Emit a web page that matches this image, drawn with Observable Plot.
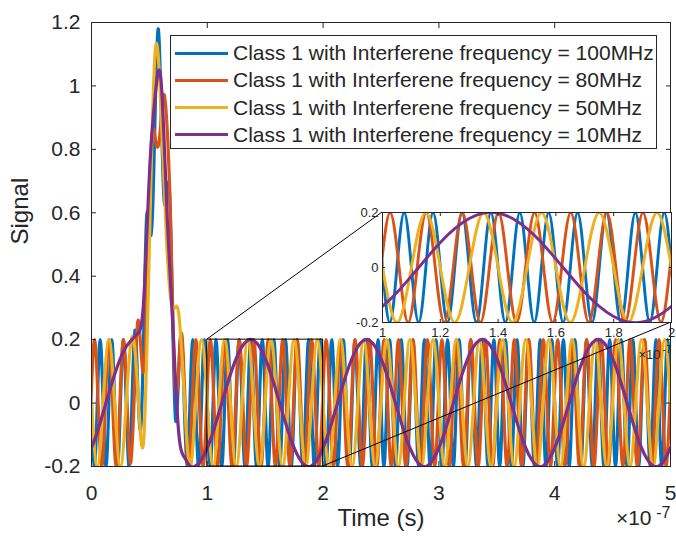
<!DOCTYPE html>
<html>
<head>
<meta charset="utf-8">
<script src="https://cdn.jsdelivr.net/npm/d3@7"></script>
<script src="https://cdn.jsdelivr.net/npm/@observablehq/plot@0.6"></script>
<style>
  html, body { margin: 0; padding: 0; background: #fff; }
  #chart { position: relative; width: 676px; height: 538px; font-family: "Liberation Sans", Arial, sans-serif; color: #262626; }
  #chart > svg { position: absolute; left: 0; top: 0; }
  .legend { position: absolute; left: 170px; top: 35px; width: 487px; height: 114px; box-sizing: border-box;
            border: 1px solid #262626; background: #fff; font-size: 21px; }
  .legend .row { position: absolute; left: 0; height: 26px; display: flex; align-items: center; white-space: nowrap; }
  .legend .swatch { width: 53px; height: 3px; margin-left: 4px; margin-right: 5px; }
</style>
</head>
<body>
<div id="chart"></div>
<script>
// ---------- data (time in units of 10^-7 s) ----------
const seriesNames = [
  "Class 1 with Interferene frequency = 100MHz",
  "Class 1 with Interferene frequency = 80MHz",
  "Class 1 with Interferene frequency = 50MHz",
  "Class 1 with Interferene frequency = 10MHz"
];
const seriesColors = ["#0072BD", "#D95319", "#EDB120", "#7E2F8E"];
const seriesStart = [0, -0.005, 0, 0];
const seriesStep = [0.025, 0.03125, 0.05, 0.05];

const blueSignal = [
  0,-0.2,0,0.2, 0,-0.2,0,0.2, 0,-0.2,0,0.2, 0,-0.2,
  0.01,0.23,0.05,-0.08,0.21,0.58,0.55,0.58,0.92,1.18,0.95,0.65,0.66,0.66,0.28,-0.05,0.07,0.22,0.01,
  -0.2,0,0.2,
  0,-0.2,0,0.2, 0,-0.2,0,0.2, 0,-0.2,0,0.2, 0,-0.2,0,0.2, 0,-0.2,0,0.2,
  0,-0.2,0,0.2, 0,-0.2,0,0.2, 0,-0.2,0,0.2, 0,-0.2,0,0.2, 0,-0.2,0,0.2,
  0,-0.2,0,0.2, 0,-0.2,0,0.2, 0,-0.2,0,0.2, 0,-0.2,0,0.2, 0,-0.2,0,0.2,
  0,-0.2,0,0.2, 0,-0.2,0,0.2, 0,-0.2,0,0.2, 0,-0.2,0,0.2, 0,-0.2,0,0.2,
  0,-0.2,0,0.2, 0,-0.2,0,0.2, 0,-0.2,0,0.2, 0,-0.2,0,0.2, 0,-0.2,0,0.2,
  0,-0.2,0,0.2, 0,-0.2,0,0.2, 0,-0.2,0,0.2, 0,-0.2,0,0.2, 0,-0.2,0,0.2,
  0,-0.2,0,0.2, 0,-0.2,0,0.2, 0,-0.2,0,0.2, 0,-0.2,0,0.2, 0,-0.2,0,0.2,
  0,-0.2,0,0.2, 0,-0.2,0,0.2, 0,-0.2,0,0.2, 0,-0.2,0,0.2, 0,-0.2,0,0.2,
  0,-0.2,0,0.2,
  0
];

const orangeSignal = [
  0,0.2,0,-0.2, 0,0.2,0,-0.2, 0,0.2,0,
  -0.19,0.03,0.26,0.14,0.16,0.6,0.86,0.82,0.84,0.97,0.88,0.58,0.12,0.06,0.22,0.01,-0.2,
  0,0.2,0,-0.2, 0,0.2,0,-0.2, 0,0.2,0,-0.2, 0,0.2,0,-0.2, 0,0.2,0,-0.2,
  0,0.2,0,-0.2, 0,0.2,0,-0.2, 0,0.2,0,-0.2, 0,0.2,0,-0.2, 0,0.2,0,-0.2,
  0,0.2,0,-0.2, 0,0.2,0,-0.2, 0,0.2,0,-0.2, 0,0.2,0,-0.2, 0,0.2,0,-0.2,
  0,0.2,0,-0.2, 0,0.2,0,-0.2, 0,0.2,0,-0.2, 0,0.2,0,-0.2, 0,0.2,0,-0.2,
  0,0.2,0,-0.2, 0,0.2,0,-0.2, 0,0.2,0,-0.2, 0,0.2,0,-0.2, 0,0.2,0,-0.2,
  0,0.2,0,-0.2, 0,0.2,0,-0.2, 0,0.2,0,-0.2, 0,0.2,0,-0.2, 0,0.2,0,-0.2,
  0,0.2,0,-0.2, 0,0.2,0,-0.2, 0,0.2,0,-0.2,
  0,0.2
];

const yellowSignal = [
  0,-0.2,0,0.2, 0,-0.2,0,
  0.21,0.04,-0.12,0.5,1.11,0.93,0.5,0.3,0.29,0.03,-0.2,
  0,0.2,
  0,-0.2,0,0.2, 0,-0.2,0,0.2, 0,-0.2,0,0.2, 0,-0.2,0,0.2, 0,-0.2,0,0.2,
  0,-0.2,0,0.2, 0,-0.2,0,0.2, 0,-0.2,0,0.2, 0,-0.2,0,0.2, 0,-0.2,0,0.2,
  0,-0.2,0,0.2, 0,-0.2,0,0.2, 0,-0.2,0,0.2, 0,-0.2,0,0.2, 0,-0.2,0,0.2,
  0,-0.2,0,0.2, 0,-0.2,0,0.2, 0,-0.2,0,0.2, 0,-0.2,0,0.2, 0,-0.2,0,0.2,
  0
];

const purpleSignal = [
  -0.141,-0.091,-0.031,0.031,0.091,0.141,0.178,
  0.2,0.22,0.32,0.72,0.97,1.02,0.62,0.26,-0.08,-0.17,-0.198,
  -0.198,-0.178,
  -0.141,-0.091,-0.031,0.031,0.091,0.141,0.178,0.198,0.198,0.178,0.141,0.091,0.031,-0.031,-0.091,-0.141,-0.178,-0.198,-0.198,-0.178,
  -0.141,-0.091,-0.031,0.031,0.091,0.141,0.178,0.198,0.198,0.178,0.141,0.091,0.031,-0.031,-0.091,-0.141,-0.178,-0.198,-0.198,-0.178,
  -0.141,-0.091,-0.031,0.031,0.091,0.141,0.178,0.198,0.198,0.178,0.141,0.091,0.031,-0.031,-0.091,-0.141,-0.178,-0.198,-0.198,-0.178,
  -0.141,-0.091,-0.031,0.031,0.091,0.141,0.178,0.198,0.198,0.178,0.141,0.091,0.031,-0.031,-0.091,-0.141,-0.178,-0.198,-0.198,-0.178,
  -0.141
];

const xTicks = [0, 1, 2, 3, 4, 5];
const xTickLabels = ["0", "1", "2", "3", "4", "5"];
const yTicks = [-0.2, 0, 0.2, 0.4, 0.6, 0.8, 1, 1.2];
const yTickLabels = ["-0.2", "0", "0.2", "0.4", "0.6", "0.8", "1", "1.2"];
const insetXTicks = [1, 1.2, 1.4, 1.6, 1.8, 2];
const insetXTickLabels = ["1", "1.2", "1.4", "1.6", "1.8", "2"];
const insetYTicks = [-0.2, 0, 0.2];
const insetYTickLabels = ["-0.2", "0", "0.2"];
const zoomX = [1, 2];
const zoomY = [-0.2, 0.2];
const xLabel = "Time (s)";
const yLabel = "Signal";
const exponentBase = "×10";
const exponentPower = "-7";

// ---------- build ----------
const signals = [blueSignal, orangeSignal, yellowSignal, purpleSignal];
const rows = signals.map((vals, s) => vals.map((v, i) => ({t: seriesStart[s] + i * seriesStep[s], v})));
const labelOf = (ticks, labels) => { const m = new Map(ticks.map((t, i) => [t, labels[i]])); return d => m.get(d); };
const FONT = "'Liberation Sans', Arial, Helvetica, sans-serif";
const INK = "#262626";

const lineMarks = (w) => rows.map((r, s) => Plot.line(r, {x: "t", y: "v", stroke: seriesColors[s], strokeWidth: w, curve: "natural", clip: true}));

const main = Plot.plot({
  width: 676, height: 538,
  marginLeft: 91, marginRight: 6, marginTop: 22, marginBottom: 72,
  style: {fontFamily: FONT, fontSize: "21px", color: INK, background: "white", overflow: "visible"},
  x: {domain: [0, 5]},
  y: {domain: [-0.2, 1.2]},
  marks: [
    ...lineMarks(3.2),
    Plot.rect([{x1: zoomX[0], x2: zoomX[1], y1: zoomY[0], y2: zoomY[1]}], {x1: "x1", x2: "x2", y1: "y1", y2: "y2", fill: "none", stroke: "#000", strokeWidth: 1}),
    Plot.frame({stroke: INK}),
    Plot.axisX(xTicks, {anchor: "bottom", tickSize: 5, insetBottom: 5, tickPadding: 19, tickFormat: labelOf(xTicks, xTickLabels), label: null}),
    Plot.axisX(xTicks, {anchor: "top", tickSize: 5, insetTop: 5, tickFormat: () => "", label: null}),
    Plot.axisY(yTicks, {anchor: "left", tickSize: 5, insetLeft: 5, tickPadding: 11, tickFormat: labelOf(yTicks, yTickLabels), label: null}),
    Plot.axisY(yTicks, {anchor: "right", tickSize: 5, insetRight: 5, tickFormat: () => "", label: null}),
    Plot.text([xLabel], {text: d => d, frameAnchor: "bottom", dy: 59, fontSize: 24, fill: INK}),
    Plot.text([yLabel], {text: d => d, frameAnchor: "left", dx: -71, rotate: -90, fontSize: 24, fill: INK}),
    Plot.text([exponentBase], {text: d => d, frameAnchor: "bottom-right", dx: -19, dy: 58, textAnchor: "end", fontSize: 21, fill: INK}),
    Plot.text([exponentPower], {text: d => d, frameAnchor: "bottom-right", dx: 0, dy: 51, textAnchor: "end", fontSize: 16, fill: INK})
  ]
});

const inset = Plot.plot({
  width: 676, height: 538,
  marginLeft: 382, marginRight: 5, marginTop: 212, marginBottom: 216,
  style: {fontFamily: FONT, fontSize: "13px", color: INK, background: "transparent", overflow: "visible"},
  x: {domain: zoomX},
  y: {domain: zoomY},
  marks: [
    Plot.frame({fill: "white"}),
    ...lineMarks(2.9),
    Plot.frame({stroke: INK}),
    Plot.axisX(insetXTicks, {anchor: "bottom", tickSize: 3, insetBottom: 3, tickPadding: 5, tickFormat: labelOf(insetXTicks, insetXTickLabels), label: null}),
    Plot.axisX(insetXTicks, {anchor: "top", tickSize: 3, insetTop: 3, tickFormat: () => "", label: null}),
    Plot.axisY(insetYTicks, {anchor: "left", tickSize: 3, insetLeft: 3, tickPadding: 4, tickFormat: labelOf(insetYTicks, insetYTickLabels), label: null}),
    Plot.axisY(insetYTicks, {anchor: "right", tickSize: 3, insetRight: 3, tickFormat: () => "", label: null}),
    Plot.text([exponentBase], {text: d => d, frameAnchor: "bottom-right", dx: -11, dy: 36, textAnchor: "end", fontSize: 13, fill: INK}),
    Plot.text([exponentPower], {text: d => d, frameAnchor: "bottom-right", dx: 0, dy: 30, textAnchor: "end", fontSize: 10, fill: INK})
  ]
});

// connectors between zoom box and inset, positioned through both plots' scales
const sx = main.scale("x"), sy = main.scale("y"), ix = inset.scale("x"), iy = inset.scale("y");
const connectors = [
  [[sx.apply(zoomX[0]), sy.apply(zoomY[1])], [ix.apply(zoomX[0]), iy.apply(zoomY[1])]],
  [[sx.apply(zoomX[1]), sy.apply(zoomY[0])], [ix.apply(zoomX[1]), iy.apply(zoomY[0])]]
];
const overlay = d3.create("svg").attr("width", 676).attr("height", 538);
overlay.selectAll("line").data(connectors).join("line")
  .attr("x1", d => d[0][0]).attr("y1", d => d[0][1])
  .attr("x2", d => d[1][0]).attr("y2", d => d[1][1])
  .attr("stroke", "#000").attr("stroke-width", 1);

const chart = document.getElementById("chart");
chart.append(main, overlay.node(), inset);

// legend
const legend = document.createElement("div");
legend.className = "legend";
seriesNames.forEach((name, s) => {
  const row = document.createElement("div");
  row.className = "row";
  row.style.top = (4 + s * 27.3) + "px";
  const sw = document.createElement("span");
  sw.className = "swatch";
  sw.style.background = seriesColors[s];
  const tx = document.createElement("span");
  tx.textContent = name;
  row.append(sw, tx);
  legend.append(row);
});
chart.append(legend);
</script>
</body>
</html>
